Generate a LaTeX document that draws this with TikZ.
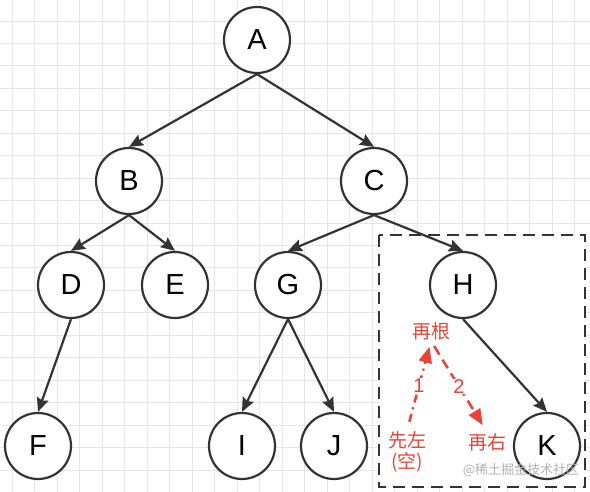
\documentclass[tikz,border=0pt]{standalone}
\usepackage{fontspec}
\setmainfont{Liberation Sans}
\newfontfamily\cjk{Noto Sans CJK SC}
\usepackage{tikz}
\usetikzlibrary{positioning,arrows.meta}
\definecolor{notered}{RGB}{234,67,53}
\definecolor{inkgray}{RGB}{51,51,51}

\begin{document}
\begin{tikzpicture}[
  x=1pt, y=-1pt,
  on grid,
  % light background grid, the tree sits on top of it
  gridline/.style={draw=black!10, line width=0.9pt},
  vert/.style={circle, draw=inkgray, line width=2.2pt, fill=white,
               minimum size=66pt, inner sep=0pt,
               font=\fontsize{29}{34}\selectfont},
  arr/.style={-{Stealth[length=14pt, width=12pt, inset=2pt]}, line width=2.2pt, draw=inkgray},
  frame/.style={draw=inkgray, fill=white, line width=2.5pt, dash pattern=on 12pt off 7pt},
  note/.style={text=notered, inner sep=1pt, font=\cjk\fontsize{19}{21}\selectfont},
  rarr/.style={-{Triangle[length=16pt, width=13pt]}, line width=2.5pt, draw=notered},
  lab/.style={fill=white, text=notered, inner sep=1pt, font=\fontsize{20}{22}\selectfont},
  wmark/.style={text=black!30, inner sep=0pt, font=\cjk\fontsize{13}{15}\selectfont}
]
\useasboundingbox (0,0) rectangle (590,492);
\fill[white] (0,0) rectangle (590,492);
\foreach \i in {0,...,25}
  \draw[gridline] ({12+22.5*\i},0) -- ({12+22.5*\i},492);
\foreach \j in {0,...,20}
  \draw[gridline] (0,{21+22.45*\j}) -- (590,{21+22.45*\j});

% the subtree rooted at H
\draw[frame] (379,235) rectangle (585,487);

\node[vert] (A) at (257,40) {A};
\node[vert, below left=141pt and 128pt of A] (B) {B};
\node[vert, below right=141pt and 117pt of A] (C) {C};
\node[vert, below left=104pt and 58pt of B] (D) {D};
\node[vert, below right=104pt and 46pt of B] (E) {E};
\node[vert, below left=104pt and 86pt of C] (G) {G};
\node[vert, below right=104pt and 89pt of C] (H) {H};
\node[vert, below left=161pt and 33pt of D] (F) {F};
\node[vert, below left=161pt and 46pt of G] (I) {I};
\node[vert, below right=161pt and 46pt of G] (J) {J};
\node[vert, below right=161pt and 84pt of H] (K) {K};

\foreach \a/\b in {A/B, A/C, B/D, B/E, C/G, C/H, D/F, G/I, G/J, H/K}
  \draw[arr] (\a.south) -- (\b.north);

\node[note] (gen) at (431,331) {再根};
\node[note, align=center] (xian) at (407,452) {先左\\(空)};
\node[note] (you) at (487,442) {再右};

\draw[rarr, dash pattern=on 8pt off 5pt on 2pt off 5pt, shorten <=9pt, shorten >=6pt]
  (xian.north) -- node[lab] {1} (gen.south);
\draw[rarr, dash pattern=on 10pt off 6pt, shorten <=6pt, shorten >=8pt]
  (gen.south) -- node[lab] {2} (you.north);

\node[wmark] (wm) at (521,470) {@稀土掘金技术社区};
\end{tikzpicture}
\end{document}
